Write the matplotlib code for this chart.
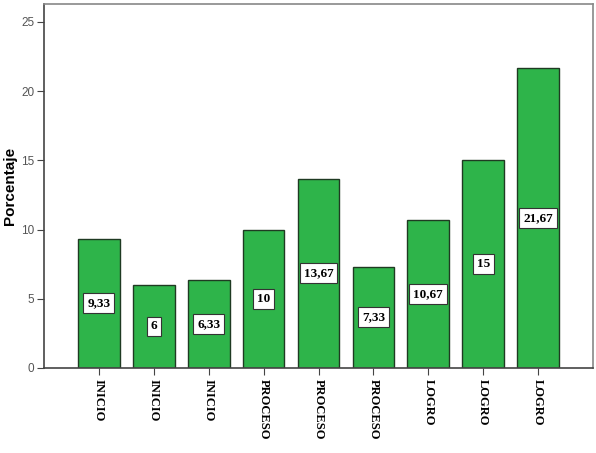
import matplotlib
matplotlib.use('Agg')
import matplotlib.pyplot as plt
import numpy as np

categorias = ['INICIO', 'INICIO', 'INICIO', 'PROCESO', 'PROCESO', 'PROCESO', 'LOGRO', 'LOGRO', 'LOGRO']
porcentajes = [9.33, 6, 6.33, 10, 13.67, 7.33, 10.67, 15, 21.67]
etiquetas = ['9,33', '6', '6,33', '10', '13,67', '7,33', '10,67', '15', '21,67']
yticks = [0, 5, 10, 15, 20, 25]

fig = plt.figure(figsize=(5.96, 4.53), dpi=100)
ax = fig.add_axes([44/596, 1 - 368/453, (593-44)/596, (368-4)/453])

x = np.arange(len(categorias))
bars = ax.bar(x, porcentajes, width=0.76, color='#2eb44a', edgecolor='#1f3a22', linewidth=1.0, zorder=2)

for b, lab in zip(bars, etiquetas):
    h = b.get_height()
    ax.text(b.get_x() + b.get_width()/2, h/2, lab, ha='center', va='center',
            fontsize=9.5, fontweight='bold', family='Liberation Serif', color='black',
            bbox=dict(boxstyle='square,pad=0.3', facecolor='white', edgecolor='#333333', linewidth=0.8),
            zorder=3)

ax.set_xlim(-1, 9)
ax.set_ylim(0, 26.3)
ax.set_yticks(yticks)
ax.set_yticklabels([str(t) for t in yticks], fontsize=8.5, color='#555555', family='Liberation Sans')
ax.set_xticks(x)
ax.set_xticklabels(categorias, rotation=270, fontsize=9, fontweight='bold', family='Liberation Serif', va='top')
ax.tick_params(axis='y', direction='out', length=5, color='#444444', pad=2)
ax.tick_params(axis='x', direction='out', length=5, color='#444444', pad=3)

ax.set_ylabel('Porcentaje', fontsize=11, fontweight='bold', family='Liberation Sans')
ax.yaxis.set_label_coords(-0.05, 0.5)

for s in ['left', 'bottom']:
    ax.spines[s].set_color('#444444')
    ax.spines[s].set_linewidth(1.2)
for s in ['top', 'right']:
    ax.spines[s].set_color('#888888')
    ax.spines[s].set_linewidth(1.2)

fig.savefig('out.png', dpi=100)
